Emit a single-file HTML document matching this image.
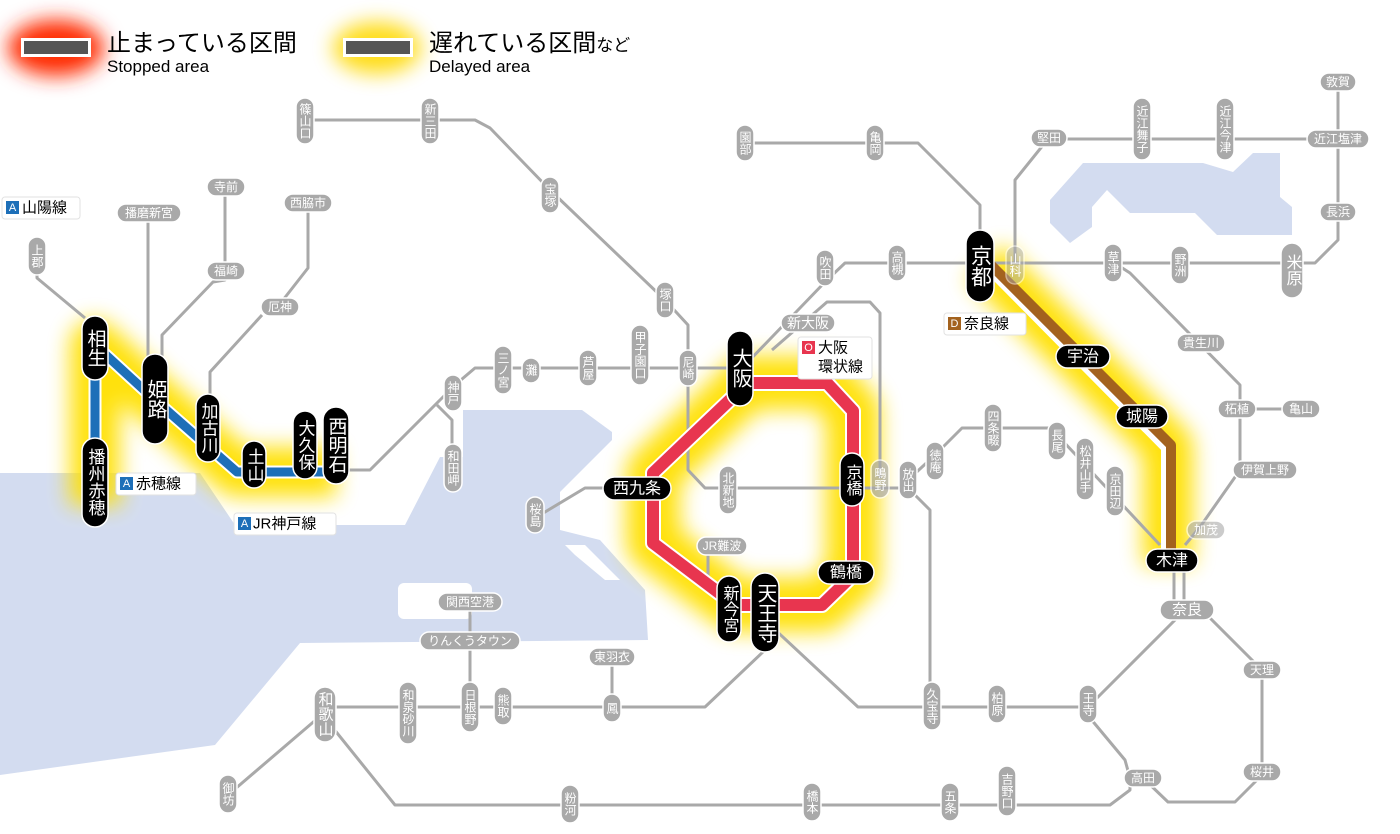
<!DOCTYPE html>
<html><head><meta charset="utf-8">
<style>
html,body{margin:0;padding:0;background:#fff;}
svg{display:block;font-family:"Liberation Sans","Noto Sans CJK JP",sans-serif;}
.g rect{fill:#a9a9a9;stroke:#fff;stroke-width:1.5}
.g text{fill:#fff;font-size:12px;text-anchor:middle;dominant-baseline:central}
.v{writing-mode:vertical-rl;letter-spacing:0px}
.b rect{fill:#000;stroke:#fff;stroke-width:1.5}
.b text{fill:#fff;font-size:19px;text-anchor:middle;dominant-baseline:central}
.ln{fill:none;stroke:#a9a9a9;stroke-width:3;stroke-linejoin:round}
.lg rect.bg{fill:#fff;stroke:#e2e2e2;stroke-width:1}
.lg text{font-size:15px;fill:#000;dominant-baseline:central}
</style></head><body>
<svg width="1400" height="834" viewBox="0 0 1400 834" xmlns="http://www.w3.org/2000/svg">
<defs>
<filter id="blur" x="-30%" y="-30%" width="160%" height="160%"><feGaussianBlur stdDeviation="11"/></filter>
<filter id="blur2" x="-50%" y="-50%" width="200%" height="200%"><feGaussianBlur stdDeviation="10"/></filter>
</defs>
<!-- water -->
<path fill="#d3dcf0" d="M0,473 L200,473 L235,525 L405,525 L440,457 L463,457 L463,410 L582,410 L612,432 L612,440 L560,492 L560,530 L600,540 L645,590 L648,640 L300,643 L215,745 L0,775 Z"/>
<rect x="398" y="583" width="74" height="36" rx="6" fill="#fff"/>
<path fill="#fff" d="M565,545 L585,545 L620,580 L605,580 L575,555Z"/>
<path fill="#d3dcf0" d="M1050,200 L1083,163 L1203,163 L1233,172 L1253,153 L1280,153 L1280,197 L1292,207 L1292,235 L1217,235 L1195,213 L1130,213 L1107,190 L1092,207 L1092,227 L1070,243 L1050,223 Z"/>

<!-- legend glows -->
<ellipse cx="56" cy="48" rx="48" ry="28" fill="#ff2a00" filter="url(#blur2)"/>
<ellipse cx="377" cy="48" rx="44" ry="26" fill="#ffd900" filter="url(#blur2)" opacity="0.9"/>
<rect x="21" y="38" width="70" height="19" fill="#fff"/>
<rect x="24" y="41" width="64" height="13" fill="#555"/>
<rect x="343" y="38" width="70" height="19" fill="#fff"/>
<rect x="346" y="41" width="64" height="13" fill="#555"/>
<text x="107" y="51" font-size="24" fill="#000">止まっている区間</text>
<text x="107" y="72" font-size="17" fill="#000">Stopped area</text>
<text x="429" y="51" font-size="24" fill="#000">遅れている区間<tspan font-size="17">など</tspan></text>
<text x="429" y="72" font-size="17" fill="#000">Delayed area</text>

<!-- yellow glows -->
<g filter="url(#blur)" stroke="#ffe000" fill="none" stroke-linejoin="round" opacity="0.95">
<path d="M95,505 L95,345 L155,400 L237,472 L336,472" stroke-width="50"/>
<path d="M745,383 L827,383 L853,411 L853,575 L822,605 L735,605 L653,543 L653,473 L735,395 Z" stroke-width="54"/>
<path d="M985,262 L1168,447 L1168,565" stroke-width="50"/>
</g>

<!-- gray lines -->
<g class="ln">
<path d="M37,262 L37,278 L85,318"/>
<path d="M148,213 L148,360"/>
<path d="M225,187 L225,280 L213,282 L162,335 L162,360"/>
<path d="M308,203 L308,268 L283,300"/>
<path d="M262,315 L210,372 L210,400"/>
<path d="M336,470 L370,470 L440,400 L455,385 L475,368 L740,368"/>
<path d="M437,405 L452,420 L452,470"/>
<path d="M305,120 L475,120 L490,128 L550,190 L665,300 L688,325 L688,470 L705,488 L905,488"/>
<path d="M745,365 L825,282 L845,263 L1315,263 L1338,240 L1338,83"/>
<path d="M772,350 L827,302 L870,302 L880,313 L880,478"/>
<path d="M745,143 L918,143 L980,205 L980,240"/>
<path d="M1015,262 L1015,180 L1048,139 L1338,139"/>
<path d="M1113,262 L1130,273 L1240,385 L1240,470 L1200,527 L1185,545"/>
<path d="M1240,409 L1305,409"/>
<path d="M605,488 L585,488 L535,518"/>
<path d="M708,546 L708,588 L725,605"/>
<path d="M765,650 L705,707 L315,707"/>
<path d="M612,657 L612,707"/>
<path d="M470,602 L470,707"/>
<path d="M228,795 L318,718"/>
<path d="M325,718 L395,805 L1110,805 L1130,790 L1130,778"/>
<path d="M1090,718 L1125,760 L1130,778"/>
<path d="M1143,778 L1168,802 L1235,802 L1262,775 L1262,670 L1200,608"/>
<path d="M770,625 L858,707 L1088,707 L1180,615"/>
<path d="M1174,570 L1174,605 M1184,570 L1184,605"/>
<path d="M908,480 L935,455 L962,428 L1050,428 L1060,438 L1160,545"/>
<path d="M910,490 L930,510 L930,705"/>
</g>

<!-- colored lines -->
<g fill="none" stroke-linejoin="round">
<path d="M95,505 L95,345 L155,400 L237,472 L336,472" stroke="#fff" stroke-width="13"/>
<path d="M95,505 L95,345 L155,400 L237,472 L336,472" stroke="#1d6fb8" stroke-width="9"/>
<path d="M745,383 L827,383 L853,411 L853,575 L822,605 L735,605 L653,543 L653,473 L735,395 Z" stroke="#fff" stroke-width="16"/>
<path d="M745,383 L827,383 L853,411 L853,575 L822,605 L735,605 L653,543 L653,473 L735,395 Z" stroke="#e8354f" stroke-width="12"/>
<path d="M985,262 L1168,447 L1168,565" stroke="#fff" stroke-width="14"/>
<path d="M988,262 L1171,445 L1171,565" stroke="#a3621e" stroke-width="10"/>
</g>

<!-- gray labels vertical -->
<g class="g">
<rect x="296" y="98" width="18" height="46" rx="9"/><text class="v" x="305" y="121">篠山口</text>
<rect x="421" y="98" width="18" height="46" rx="9"/><text class="v" x="430" y="121">新三田</text>
<rect x="541" y="177" width="18" height="36" rx="9"/><text class="v" x="550" y="195">宝塚</text>
<rect x="656" y="282" width="18" height="36" rx="9"/><text class="v" x="665" y="300">塚口</text>
<rect x="679" y="350" width="18" height="36" rx="9"/><text class="v" x="688" y="368">尼崎</text>
<rect x="631" y="325" width="18" height="60" rx="9"/><text class="v" x="640" y="355">甲子園口</text>
<rect x="579" y="350" width="18" height="36" rx="9"/><text class="v" x="588" y="368">芦屋</text>
<rect x="522" y="358" width="18" height="25" rx="9"/><text class="v" x="531" y="370">灘</text>
<rect x="494" y="346" width="18" height="48" rx="9"/><text class="v" x="503" y="370">三ノ宮</text>
<rect x="444" y="375" width="18" height="36" rx="9"/><text class="v" x="453" y="393">神戸</text>
<rect x="444" y="444" width="18" height="48" rx="9"/><text class="v" x="453" y="468">和田岬</text>
<rect x="526" y="497" width="18" height="36" rx="9"/><text class="v" x="535" y="515">桜島</text>
<rect x="719" y="466" width="18" height="48" rx="9"/><text class="v" x="728" y="490">北新地</text>
<rect x="816" y="250" width="18" height="36" rx="9"/><text class="v" x="825" y="268">吹田</text>
<rect x="888" y="245" width="18" height="36" rx="9"/><text class="v" x="897" y="263">高槻</text>
<rect x="736" y="125" width="18" height="36" rx="9"/><text class="v" x="745" y="143">園部</text>
<rect x="866" y="125" width="18" height="36" rx="9"/><text class="v" x="875" y="143">亀岡</text>
<rect x="1133" y="98" width="18" height="62" rx="9"/><text class="v" x="1142" y="129">近江舞子</text>
<rect x="1216" y="98" width="18" height="62" rx="9"/><text class="v" x="1225" y="129">近江今津</text>
<rect x="1006" y="246" width="18" height="38" rx="9" opacity="0.5"/><text class="v" x="1015" y="265">山科</text>
<rect x="1104" y="244" width="18" height="38" rx="9"/><text class="v" x="1113" y="263">草津</text>
<rect x="1171" y="246" width="18" height="38" rx="9"/><text class="v" x="1180" y="265">野洲</text>
<rect x="1281" y="243" width="22" height="55" rx="11"/><text class="v" x="1292" y="270" style="font-size:16px">米原</text>
<rect x="1079" y="685" width="18" height="38" rx="9"/><text class="v" x="1088" y="704">王寺</text>
<rect x="988" y="685" width="18" height="38" rx="9"/><text class="v" x="997" y="704">柏原</text>
<rect x="923" y="682" width="18" height="48" rx="9"/><text class="v" x="932" y="706">久宝寺</text>
<rect x="998" y="766" width="18" height="50" rx="9"/><text class="v" x="1007" y="791">吉野口</text>
<rect x="941" y="783" width="18" height="38" rx="9"/><text class="v" x="950" y="802">五条</text>
<rect x="803" y="783" width="18" height="38" rx="9"/><text class="v" x="812" y="802">橋本</text>
<rect x="561" y="785" width="18" height="38" rx="9"/><text class="v" x="570" y="804">粉河</text>
<rect x="219" y="775" width="18" height="38" rx="9"/><text class="v" x="228" y="794">御坊</text>
<rect x="314" y="687" width="22" height="55" rx="11"/><text class="v" x="325" y="714" style="font-size:15px">和歌山</text>
<rect x="399" y="682" width="18" height="62" rx="9"/><text class="v" x="408" y="713">和泉砂川</text>
<rect x="461" y="682" width="18" height="50" rx="9"/><text class="v" x="470" y="707">日根野</text>
<rect x="494" y="687" width="18" height="38" rx="9"/><text class="v" x="503" y="706">熊取</text>
<rect x="603" y="694" width="18" height="28" rx="9"/><text class="v" x="612" y="708">鳳</text>
<rect x="984" y="404" width="18" height="48" rx="9"/><text class="v" x="993" y="428">四条畷</text>
<rect x="1048" y="422" width="18" height="38" rx="9"/><text class="v" x="1057" y="441">長尾</text>
<rect x="1076" y="438" width="18" height="62" rx="9"/><text class="v" x="1085" y="469">松井山手</text>
<rect x="1106" y="466" width="18" height="50" rx="9"/><text class="v" x="1115" y="491">京田辺</text>
<rect x="926" y="442" width="18" height="38" rx="9"/><text class="v" x="935" y="461">徳庵</text>
<rect x="899" y="461" width="18" height="38" rx="9"/><text class="v" x="908" y="480">放出</text>
<rect x="871" y="460" width="18" height="38" rx="9" opacity="0.7"/><text class="v" x="880" y="479">鴫野</text>
<rect x="28" y="237" width="18" height="38" rx="9"/><text class="v" x="37" y="256">上郡</text>
</g>
<!-- gray labels horizontal -->
<g class="g">
<rect x="697" y="537" width="50" height="18" rx="9"/><text x="722" y="546">JR難波</text>
<rect x="781" y="314" width="54" height="18" rx="9"/><text x="808" y="323" style="font-size:14px">新大阪</text>
<rect x="1031" y="129" width="36" height="18" rx="9"/><text x="1049" y="138">堅田</text>
<rect x="1307" y="130" width="62" height="18" rx="9"/><text x="1338" y="139">近江塩津</text>
<rect x="1320" y="73" width="36" height="18" rx="9"/><text x="1338" y="82">敦賀</text>
<rect x="1320" y="203" width="36" height="18" rx="9"/><text x="1338" y="212">長浜</text>
<rect x="1177" y="334" width="48" height="18" rx="9"/><text x="1201" y="343">貴生川</text>
<rect x="1218" y="400" width="38" height="18" rx="9"/><text x="1237" y="409">柘植</text>
<rect x="1282" y="400" width="38" height="18" rx="9"/><text x="1301" y="409">亀山</text>
<rect x="1233" y="461" width="64" height="18" rx="9"/><text x="1265" y="470">伊賀上野</text>
<rect x="1187" y="521" width="38" height="18" rx="9" opacity="0.6"/><text x="1206" y="530">加茂</text>
<rect x="1160" y="600" width="54" height="20" rx="10"/><text x="1187" y="610" style="font-size:15px">奈良</text>
<rect x="1243" y="661" width="38" height="18" rx="9"/><text x="1262" y="670">天理</text>
<rect x="1243" y="763" width="38" height="18" rx="9"/><text x="1262" y="772">桜井</text>
<rect x="1124" y="769" width="38" height="18" rx="9"/><text x="1143" y="778">高田</text>
<rect x="589" y="648" width="46" height="18" rx="9"/><text x="612" y="657">東羽衣</text>
<rect x="420" y="632" width="100" height="18" rx="9"/><text x="470" y="641">りんくうタウン</text>
<rect x="438" y="593" width="64" height="18" rx="9"/><text x="470" y="602">関西空港</text>
<rect x="117" y="204" width="64" height="18" rx="9"/><text x="149" y="213">播磨新宮</text>
<rect x="207" y="178" width="38" height="18" rx="9"/><text x="226" y="187">寺前</text>
<rect x="207" y="262" width="38" height="18" rx="9"/><text x="226" y="271">福崎</text>
<rect x="284" y="194" width="48" height="18" rx="9"/><text x="308" y="203">西脇市</text>
<rect x="261" y="298" width="38" height="18" rx="9"/><text x="280" y="307">厄神</text>
</g>

<!-- black pills -->
<g class="b">
<rect x="82" y="316" width="26" height="64" rx="13"/><text class="v" x="95" y="348">相生</text>
<rect x="82" y="438" width="26" height="89" rx="13"/><text class="v" x="95" y="482" style="font-size:17px">播州赤穂</text>
<rect x="142" y="354" width="26" height="90" rx="13"/><text class="v" x="155" y="399" style="font-size:20px">姫路</text>
<rect x="196" y="394" width="24" height="68" rx="12"/><text class="v" x="208" y="428" style="font-size:17px">加古川</text>
<rect x="242" y="441" width="24" height="47" rx="12"/><text class="v" x="254" y="465" style="font-size:17px">土山</text>
<rect x="293" y="411" width="24" height="68" rx="12"/><text class="v" x="305" y="445" style="font-size:17px">大久保</text>
<rect x="323" y="407" width="26" height="77" rx="13"/><text class="v" x="336" y="445" style="font-size:19px">西明石</text>
<rect x="727" y="331" width="26" height="75" rx="13"/><text class="v" x="740" y="368" style="font-size:20px">大阪</text>
<rect x="603" y="477" width="68" height="23" rx="11.5"/><text x="637" y="489" style="font-size:16px">西九条</text>
<rect x="840" y="453" width="24" height="53" rx="12"/><text class="v" x="852" y="480" style="font-size:16px">京橋</text>
<rect x="818" y="561" width="56" height="23" rx="11.5"/><text x="846" y="573" style="font-size:16px">鶴橋</text>
<rect x="717" y="576" width="24" height="66" rx="12"/><text class="v" x="729" y="609" style="font-size:16px">新今宮</text>
<rect x="751" y="573" width="28" height="79" rx="14"/><text class="v" x="765" y="613" style="font-size:20px">天王寺</text>
<rect x="966" y="230" width="28" height="72" rx="14"/><text class="v" x="980" y="266" style="font-size:21px">京都</text>
<rect x="1056" y="345" width="54" height="23" rx="11.5"/><text x="1083" y="357" style="font-size:16px">宇治</text>
<rect x="1116" y="405" width="52" height="23" rx="11.5"/><text x="1142" y="417" style="font-size:16px">城陽</text>
<rect x="1146" y="549" width="52" height="23" rx="11.5"/><text x="1172" y="561" style="font-size:16px">木津</text>
</g>

<!-- line legends -->
<g class="lg">
<rect class="bg" x="2" y="197" width="78" height="22" rx="3"/><rect x="6" y="201" width="13" height="13" fill="#1d6fb8"/><text x="12.5" y="208" style="font-size:11px;fill:#fff;text-anchor:middle">A</text><text x="22" y="208">山陽線</text>
<rect class="bg" x="116" y="473" width="80" height="22" rx="3"/><rect x="120" y="477" width="13" height="13" fill="#1d6fb8"/><text x="126.5" y="484" style="font-size:11px;fill:#fff;text-anchor:middle">A</text><text x="136" y="484">赤穂線</text>
<rect class="bg" x="234" y="513" width="102" height="22" rx="3"/><rect x="238" y="517" width="13" height="13" fill="#1d6fb8"/><text x="244.5" y="524" style="font-size:11px;fill:#fff;text-anchor:middle">A</text><text x="253" y="524">JR神戸線</text>
<rect class="bg" x="944" y="313" width="82" height="22" rx="3"/><rect x="948" y="317" width="13" height="13" fill="#a3621e"/><text x="954.5" y="324" style="font-size:11px;fill:#fff;text-anchor:middle">D</text><text x="964" y="324">奈良線</text>
<rect class="bg" x="798" y="337" width="74" height="42" rx="3"/><rect x="802" y="341" width="13" height="13" fill="#e8354f"/><text x="808.5" y="348" style="font-size:11px;fill:#fff;text-anchor:middle">O</text><text x="818" y="348">大阪</text><text x="818" y="367">環状線</text>
</g>
</svg>
</body></html>
